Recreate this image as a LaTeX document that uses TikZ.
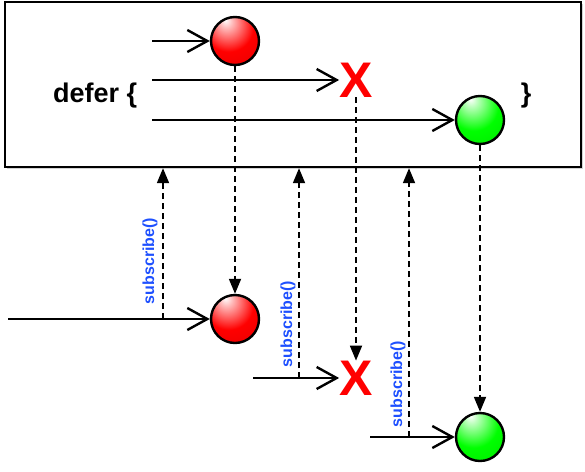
\documentclass[tikz,border=0pt]{standalone}
\usepackage{fontspec}
\setmainfont{Liberation Sans}
\usetikzlibrary{arrows,arrows.meta,shadows}
\definecolor{subblue}{RGB}{30,80,255}
\pgfdeclareradialshading{redmarble}{\pgfpoint{-10bp}{22bp}}{color(0bp)=(white); color(6bp)=(red!25!white); color(26bp)=(red); color(60bp)=(red!85!black); color(80bp)=(red!80!black)}
\pgfdeclareradialshading{greenmarble}{\pgfpoint{-10bp}{22bp}}{color(0bp)=(white); color(6bp)=(green!25!white); color(26bp)=(green); color(60bp)=(green!85!black); color(80bp)=(green!80!black)}

\begin{document}
\begin{tikzpicture}[x=1pt, y=-1pt, >=stealth,
                    marble/.style={circle, draw=black, line width=2.4pt, minimum size=48pt, inner sep=0pt},
                    err/.style={text=red, font=\bfseries\fontsize{50}{50}\selectfont, inner sep=0pt},
                    feed/.style={line width=2.4pt, -{Straight Barb[length=20pt,width=22pt,line width=2.4pt]}},
                    link/.style={line width=1.8pt, dash pattern=on 6pt off 4pt, -{Triangle[length=15pt,width=12pt]}},
                    subtext/.style={text=subblue, font=\bfseries\fontsize{16}{16}\selectfont, rotate=90, inner sep=0pt}]
\useasboundingbox (0,0) rectangle (585,471);

% defer block
\node[draw, fill=white, line width=2.4pt, minimum width=576pt, minimum height=165pt,
      drop shadow={shadow xshift=1.5pt, shadow yshift=-1.5pt, opacity=0.35}] (box) at (293,84.5) {};
\node[anchor=base west, inner sep=0pt, font=\bfseries\fontsize{27}{27}\selectfont] (defer) at (53,102) {defer \{};
\node[anchor=base, inner sep=0pt, font=\bfseries\fontsize{27}{27}\selectfont] (close) at (526,102) {\}};

\node[marble, shading=redmarble] (r1) at (235,41) {};
\node[err] (x1) at (356,80) {X};
\node[marble, shading=greenmarble] (g1) at (480,120) {};

\coordinate (a1) at (152,41);
\coordinate (a2) at (152,80);
\coordinate (a3) at (152,120);

% subscribers
\node[marble, shading=redmarble] (r2) at (235,319) {};
\node[err] (x2) at (356,378) {X};
\node[marble, shading=greenmarble] (g2) at (480,437) {};

\coordinate (b1) at (8,319);
\coordinate (b2) at (253,378);
\coordinate (b3) at (370,437);

\coordinate (u1) at (163,319);
\coordinate (u2) at (299,378);
\coordinate (u3) at (409,437);

\path
(a1) edge[feed] (r1)
(a2) edge[feed] (x1.west)
(a3) edge[feed] (g1)
(b1) edge[feed] (r2)
(b2) edge[feed] (x2.west)
(b3) edge[feed] (g2);

\path
(r1) edge[link] (r2)
(x1.south) edge[link] (x2.north)
(g1) edge[link] (g2)
(u1) edge[link] (u1 |- box.south)
(u2) edge[link] (u2 |- box.south)
(u3) edge[link] (u3 |- box.south);

\node[subtext] (s1) at (150,261) {subscribe()};
\node[subtext] (s2) at (288,324) {subscribe()};
\node[subtext] (s3) at (398,384) {subscribe()};
\end{tikzpicture}
\end{document}
